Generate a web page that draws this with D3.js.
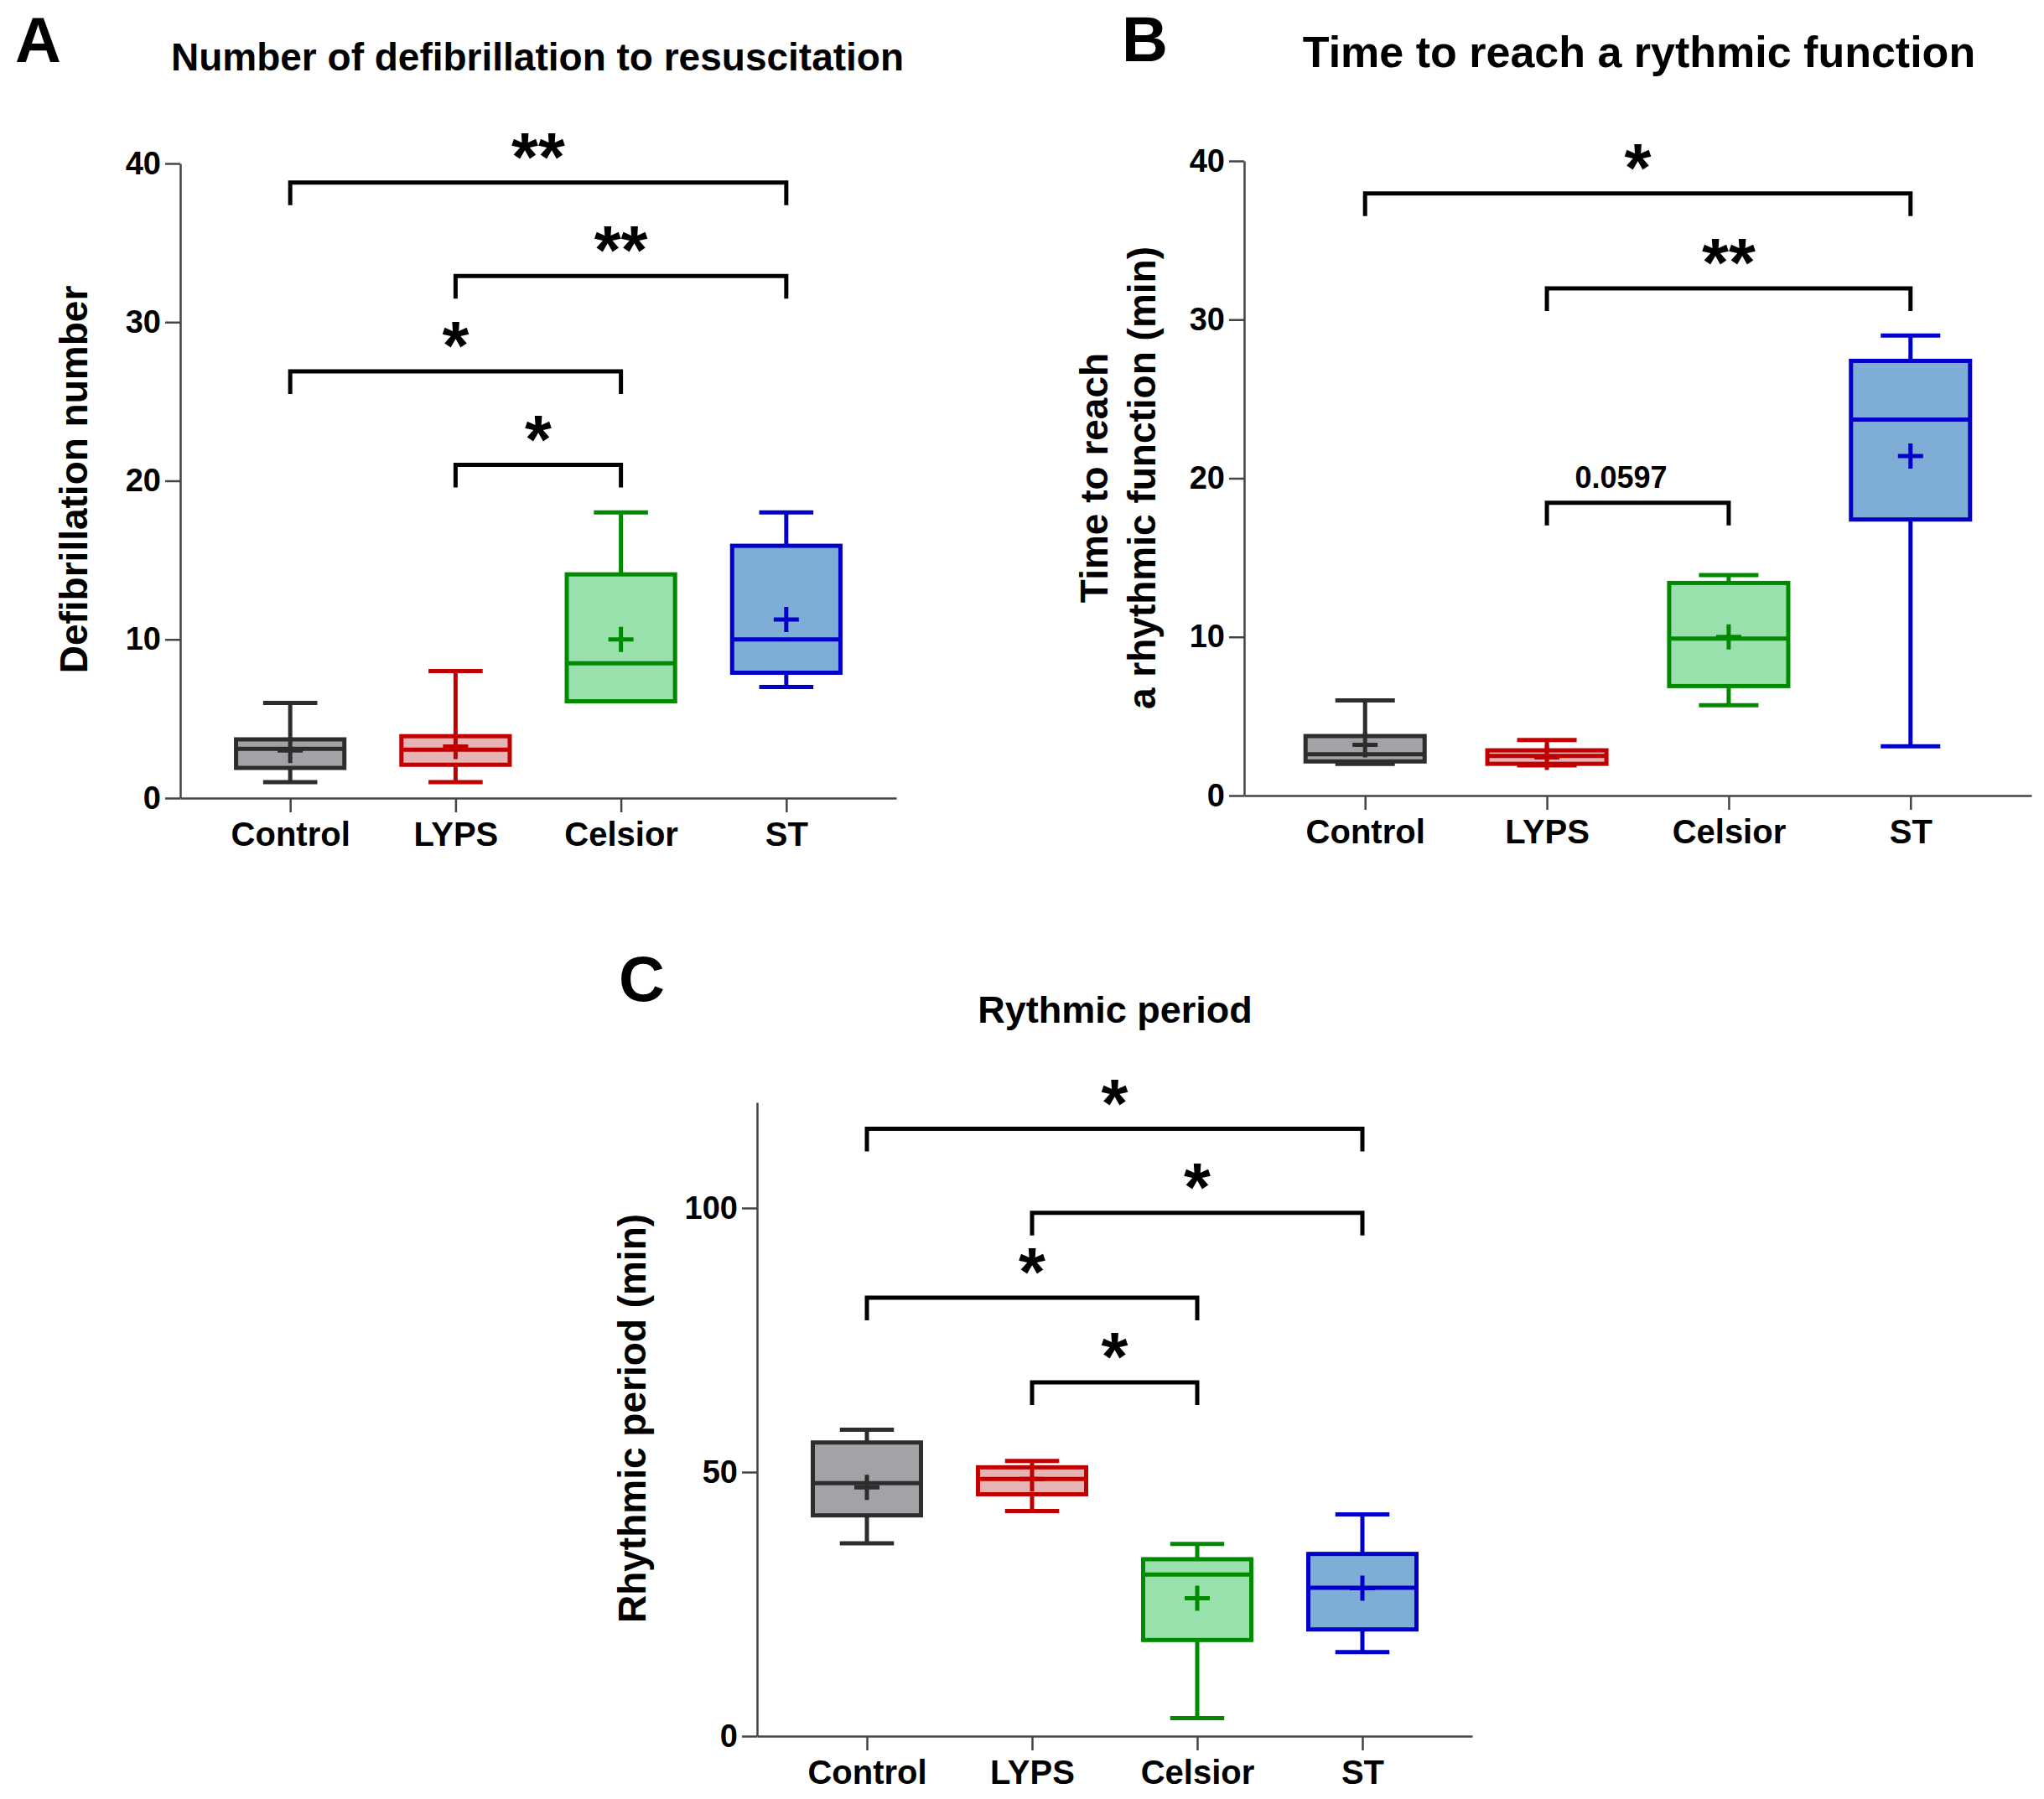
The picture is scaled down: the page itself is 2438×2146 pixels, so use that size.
<!DOCTYPE html>
<html>
<head>
<meta charset="utf-8">
<script src="https://cdn.jsdelivr.net/npm/d3@7"></script>
<style>
  body { margin: 0; background: #fff; }
  text { font-family: "Liberation Sans", Arial, sans-serif; font-weight: bold; fill: #000; }
</style>
</head>
<body>
<svg id="chart"></svg>
<script>
// groups on the x axis
var groups = ["Control", "LYPS", "Celsior", "ST"];
var strokeColors = ["#2d2d2d", "#c00000", "#008a00", "#0000c8"];
var fillColors = ["#a3a2a7", "#e5b5b6", "#98e1ad", "#7eaed6"];

// A: number of defibrillation
var defibMin = [1, 1, 6.1, 7];
var defibQ1 = [1.9, 2.1, 6.1, 7.9];
var defibMedian = [3.1, 3.05, 8.5, 10];
var defibQ3 = [3.7, 3.9, 14.1, 15.9];
var defibMax = [6, 8, 18, 18];
var defibMean = [3.0, 3.25, 10, 11.25];
var defibTicks = [0, 10, 20, 30, 40];
var defibSig = [[0, 3, 38.8, "**"], [1, 3, 32.9, "**"], [0, 2, 26.9, "*"], [1, 2, 21.0, "*"]];

// B: time to reach a rythmic function (min)
var timeMin = [2.0, 1.9, 5.7, 3.1];
var timeQ1 = [2.15, 2.0, 6.9, 17.4];
var timeMedian = [2.6, 2.5, 9.9, 23.7];
var timeQ3 = [3.75, 2.85, 13.4, 27.4];
var timeMax = [6.0, 3.5, 13.9, 29.0];
var timeMean = [3.2, 2.4, 10.0, 21.4];
var timeTicks = [0, 10, 20, 30, 40];
var timeSig = [[0, 3, 37.95, "*"], [1, 3, 31.97, "**"], [1, 2, 18.46, "0.0597"]];

// C: rythmic period (min)
var periodMin = [36.5, 42.6, 3.4, 15.9];
var periodQ1 = [41.8, 45.8, 18.2, 20.2];
var periodMedian = [47.9, 48.7, 30.6, 28.1];
var periodQ3 = [55.6, 50.9, 33.5, 34.5];
var periodMax = [58.0, 52.1, 36.4, 42.0];
var periodMean = [47.1, 48.7, 26.1, 28.0];
var periodTicks = [0, 50, 100];
var periodSig = [[0, 3, 115, "*"], [1, 3, 99.1, "*"], [0, 2, 83, "*"], [1, 2, 67, "*"]];

var svg = d3.select("#chart")
  .attr("width", 2438)
  .attr("height", 2146);

var drawPanel = function(p) {
  var x = d3.scalePoint()
    .domain(groups)
    .range([p.left, p.left + p.width])
    .padding(0.665);
  var y = d3.scaleLinear()
    .domain([0, p.yMax])
    .range([p.bottom, p.top]);
  var boxW = x.step() * 0.655;

  var g = svg.append("g");

  // axes
  var yAxis = g.append("g")
    .attr("transform", "translate(" + p.left + ",0)")
    .call(d3.axisLeft(y).tickValues(p.ticks).tickSize(18).tickSizeOuter(0).tickPadding(5));
  var xAxis = g.append("g")
    .attr("transform", "translate(0," + p.bottom + ")")
    .call(d3.axisBottom(x).tickSize(17).tickSizeOuter(0).tickPadding(12));
  [yAxis, xAxis].forEach(function(a) {
    a.select(".domain").attr("stroke", "#444").attr("stroke-width", 2.5);
    a.selectAll(".tick line").attr("stroke", "#444").attr("stroke-width", 2.5);
    a.selectAll("text").attr("fill", "#000").attr("font-family", null);
  });
  yAxis.selectAll("text").attr("font-size", 38);
  xAxis.selectAll("text").attr("font-size", 40);

  var idx = d3.range(groups.length);

  // whiskers
  g.selectAll(".whisker")
    .data(idx)
    .enter()
    .append("line")
    .attr("x1", function(i) { return x(groups[i]); })
    .attr("x2", function(i) { return x(groups[i]); })
    .attr("y1", function(i) { return y(p.min[i]); })
    .attr("y2", function(i) { return y(p.max[i]); })
    .attr("stroke", function(i) { return strokeColors[i]; })
    .attr("stroke-width", 5);
  ["min", "max"].forEach(function(k) {
    g.selectAll(".cap-" + k)
      .data(idx)
      .enter()
      .append("line")
      .attr("x1", function(i) { return x(groups[i]) - boxW / 4; })
      .attr("x2", function(i) { return x(groups[i]) + boxW / 4; })
      .attr("y1", function(i) { return y(p[k][i]); })
      .attr("y2", function(i) { return y(p[k][i]); })
      .attr("stroke", function(i) { return strokeColors[i]; })
      .attr("stroke-width", 5);
  });

  // boxes
  g.selectAll(".box")
    .data(idx)
    .enter()
    .append("rect")
    .attr("x", function(i) { return x(groups[i]) - boxW / 2; })
    .attr("y", function(i) { return y(p.q3[i]); })
    .attr("width", boxW)
    .attr("height", function(i) { return y(p.q1[i]) - y(p.q3[i]); })
    .attr("fill", function(i) { return fillColors[i]; })
    .attr("stroke", function(i) { return strokeColors[i]; })
    .attr("stroke-width", 5);
  g.selectAll(".median")
    .data(idx)
    .enter()
    .append("line")
    .attr("x1", function(i) { return x(groups[i]) - boxW / 2; })
    .attr("x2", function(i) { return x(groups[i]) + boxW / 2; })
    .attr("y1", function(i) { return y(p.median[i]); })
    .attr("y2", function(i) { return y(p.median[i]); })
    .attr("stroke", function(i) { return strokeColors[i]; })
    .attr("stroke-width", 5);

  // mean as "+"
  g.selectAll(".mean")
    .data(idx)
    .enter()
    .append("path")
    .attr("d", function(i) {
      var cx = x(groups[i]), cy = y(p.mean[i]);
      return "M" + (cx - 15) + "," + cy + "H" + (cx + 15) + "M" + cx + "," + (cy - 15) + "V" + (cy + 15);
    })
    .attr("stroke", function(i) { return strokeColors[i]; })
    .attr("stroke-width", 5)
    .attr("fill", "none");

  // significance brackets
  p.sig.forEach(function(s) {
    var x1 = x(groups[s[0]]), x2 = x(groups[s[1]]), yy = y(s[2]);
    g.append("path")
      .attr("d", "M" + x1 + "," + (yy + 27) + "V" + yy + "H" + x2 + "V" + (yy + 27))
      .attr("fill", "none")
      .attr("stroke", "#000")
      .attr("stroke-width", 5);
    var star = s[3].indexOf("*") >= 0;
    g.append("text")
      .attr("x", star ? (x1 + x2) / 2 : (x1 + x2) / 2 - 20)
      .attr("y", star ? yy - 3 : yy - 18)
      .attr("text-anchor", "middle")
      .attr("font-size", star ? 82 : 36)
      .text(s[3]);
  });

  // titles
  g.append("text")
    .attr("x", p.letterX)
    .attr("y", p.letterY)
    .attr("font-size", 76)
    .text(p.letter);
  g.append("text")
    .attr("x", p.titleX)
    .attr("y", p.titleY)
    .attr("text-anchor", "middle")
    .attr("font-size", p.titleSize)
    .text(p.title);
  var yl = g.append("text")
    .attr("transform", "translate(" + p.yLabelX + "," + p.yLabelY + ") rotate(-90)")
    .attr("text-anchor", "middle")
    .attr("font-size", 46);
  p.yLabel.forEach(function(line, i) {
    yl.append("tspan")
      .attr("x", 0)
      .attr("y", (i - (p.yLabel.length - 1) / 2) * 57)
      .attr("dy", "0.35em")
      .text(line);
  });
};

drawPanel({
  left: 215, width: 854, top: 195, bottom: 952, yMax: 40, ticks: defibTicks,
  min: defibMin, q1: defibQ1, median: defibMedian, q3: defibQ3, max: defibMax, mean: defibMean,
  sig: defibSig,
  letter: "A", letterX: 18, letterY: 74,
  title: "Number of defibrillation to resuscitation", titleX: 641, titleY: 84, titleSize: 46,
  yLabel: ["Defibrillation number"], yLabelX: 88, yLabelY: 572
});

drawPanel({
  left: 1484, width: 939, top: 192, bottom: 949, yMax: 40, ticks: timeTicks,
  min: timeMin, q1: timeQ1, median: timeMedian, q3: timeQ3, max: timeMax, mean: timeMean,
  sig: timeSig,
  letter: "B", letterX: 1338, letterY: 73,
  title: "Time to reach a rythmic function", titleX: 1955, titleY: 80, titleSize: 52,
  yLabel: ["Time to reach", "a rhythmic function (min)"], yLabelX: 1333, yLabelY: 570
});

drawPanel({
  left: 903, width: 853, top: 1315, bottom: 2071, yMax: 120, ticks: periodTicks,
  min: periodMin, q1: periodQ1, median: periodMedian, q3: periodQ3, max: periodMax, mean: periodMean,
  sig: periodSig,
  letter: "C", letterX: 738, letterY: 1194,
  title: "Rythmic period", titleX: 1330, titleY: 1220, titleSize: 45,
  yLabel: ["Rhythmic period (min)"], yLabelX: 754, yLabelY: 1692
});
</script>
</body>
</html>
